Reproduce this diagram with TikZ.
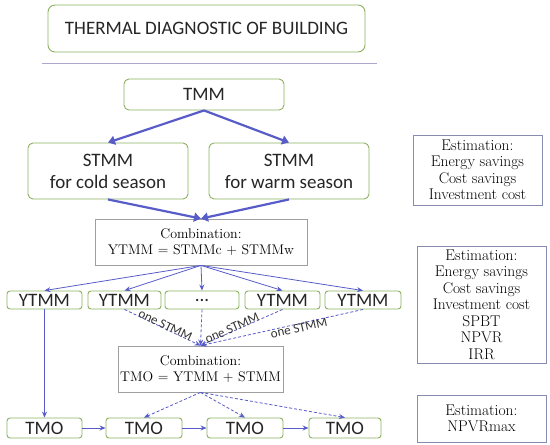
\documentclass[tikz,border=0pt]{standalone}
\usepackage{fontspec}
\newfontfamily\calibri{Carlito}
\usepackage{xcolor}
\usepackage{tikz}
\usetikzlibrary{arrows.meta,positioning}
\definecolor{boxgreen}{RGB}{140,178,95}
\definecolor{flowblue}{RGB}{88,92,200}
\definecolor{rulegray}{RGB}{175,165,205}
\definecolor{estgray}{RGB}{135,140,175}

\begin{document}
\begin{tikzpicture}[x=1pt, y=-1pt,
  gbox/.style={draw=boxgreen, fill=white, rounded corners=5pt, line width=0.9pt, inner sep=0pt, align=center, text=black!85, font=\calibri\fontsize{19}{22}\selectfont},
  cbox/.style={draw=gray!75, fill=white, line width=0.8pt, inner sep=0pt, align=center, font=\fontsize{14}{15.5}\selectfont},
  ebox/.style={draw=estgray, fill=white, line width=0.8pt, inner sep=0pt, align=center, font=\fontsize{15.5}{16.5}\selectfont},
  flow/.style={flowblue, line width=0.8pt, -{Stealth[length=6pt,width=5pt]}},
  dflow/.style={flow, dash pattern=on 3pt off 2pt},
  bigflow/.style={flowblue, line width=2.2pt, -{Triangle[length=7pt,width=9pt]}},
  onestmm/.style={font=\calibri\fontsize{13}{14}\selectfont, sloped, text=black!80, inner sep=0.5pt}]
  \useasboundingbox (0,0) rectangle (550,445);

  % 1. Tieu de va duong ke
  \node[gbox, rounded corners=7pt, minimum width=317pt, minimum height=47pt] (title) at (206.5,28.5) {THERMAL DIAGNOSTIC OF BUILDING};
  \draw[rulegray, line width=0.8pt] (42,63) -- (377,63);

  % 2. TMM va hai mua
  \node[gbox, minimum width=160pt, minimum height=31pt] (tmm) at (204,94.5) {TMM};
  \node[gbox, minimum width=160pt, minimum height=56pt] (stmmc) at (108,171) {STMM\\for cold season};
  \node[gbox, minimum width=160pt, minimum height=56pt] (stmmw) at (289,171) {STMM\\for warm season};

  % 3. To hop YTMM
  \node[cbox, minimum width=212pt, minimum height=46pt] (combA) at (201,242) {Combination:\\YTMM = STMMc + STMMw};

  % 4. Hang YTMM
  \foreach \n/\x/\w in {1/44.5/75, 2/124.5/73, 4/282.5/75, 5/363/76}
    \node[gbox, rounded corners=3pt, minimum width=\w pt, minimum height=18pt] (y\n) at (\x,300) {YTMM};
  \node[gbox, rounded corners=3pt, minimum width=74pt, minimum height=18pt] (y3) at (202,300) {.{}.{}.};

  % 5. To hop TMO
  \node[cbox, minimum width=165pt, minimum height=46pt] (combB) at (200.5,369) {Combination:\\TMO = YTMM + STMM};

  % 6. Hang TMO
  \foreach \n/\x/\w in {1/44.5/75, 2/144/76, 3/245/76, 4/345/72}
    \node[gbox, rounded corners=3pt, minimum width=\w pt, minimum height=20pt] (t\n) at (\x,428) {TMO};

  % 7. Hop uoc tinh ben phai
  \node[ebox, minimum width=129pt, minimum height=70pt] (estA) at (477.5,170) {Estimation:\\Energy savings\\Cost savings\\Investment cost};
  \node[ebox, minimum width=129pt, minimum height=117pt] (estB) at (481.5,304.5) {Estimation:\\Energy savings\\Cost savings\\Investment cost\\SPBT\\NPVR\\IRR};
  \node[ebox, minimum width=129pt, minimum height=47pt] (estC) at (481.5,418.5) {Estimation:\\NPVRmax};

  % 8. Mui ten dam
  \draw[bigflow] (tmm.south) -- (stmmc.north);
  \draw[bigflow] (tmm.south) -- (stmmw.north);
  \draw[bigflow] (stmmc.south) -- (combA.north);
  \draw[bigflow] (stmmw.south) -- (combA.north);

  % 9. Mui ten mong
  \foreach \n in {1,2,3,4,5}
    \draw[flow] (combA.south) -- (y\n.north);
  \draw[flow] (y1.south) -- (t1.north);
  \draw[flow] (t1.east) -- (t2.west);
  \draw[flow] (t2.east) -- (t3.west);
  \draw[flow] (t3.east) -- (t4.west);

  % 10. Mui ten net dut
  \draw[dflow] (y2.south) -- node[onestmm, above=-2pt, pos=0.52] {one STMM} (combB.north);
  \draw[dflow] (y3.south) -- (combB.north);
  \draw[dflow] (y4.south) -- node[onestmm, above=-2pt, pos=0.6] {one STMM} (combB.north);
  \draw[dflow] (y5.south) -- node[onestmm, below=-1pt, pos=0.4] {one STMM} (combB.north);
  \foreach \n in {2,3,4}
    \draw[dflow] (combB.south) -- (t\n.north);
\end{tikzpicture}
\end{document}
